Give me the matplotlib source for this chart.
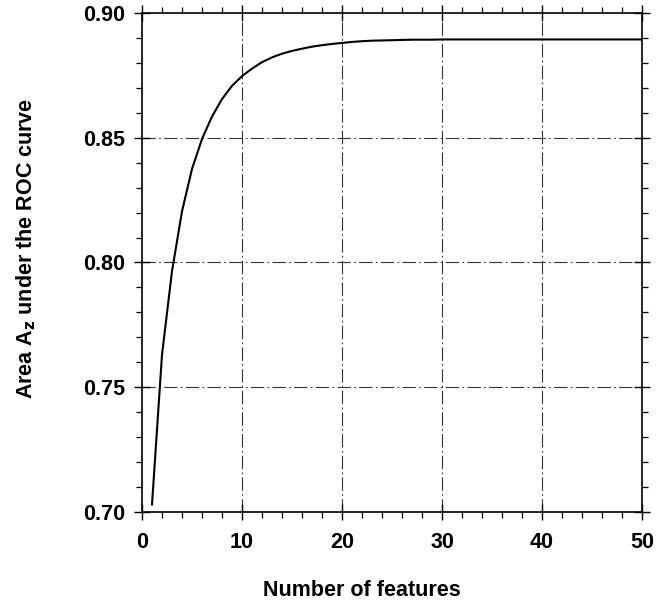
import matplotlib
matplotlib.use("Agg")
import matplotlib.pyplot as plt
from matplotlib.ticker import MultipleLocator, FormatStrFormatter

plt.rcParams['font.family'] = ['Liberation Sans', 'DejaVu Sans']
plt.rcParams['font.weight'] = 'bold'

n_features = list(range(1, 51))
auc = [0.703, 0.763, 0.7965, 0.8205, 0.8375, 0.8495, 0.8585, 0.8655, 0.8708, 0.8747,
       0.8777, 0.8803, 0.8822, 0.8837, 0.8848, 0.8857, 0.8865, 0.8871, 0.8876, 0.8880,
       0.8884, 0.8887, 0.8889, 0.8890, 0.8891, 0.8892, 0.8893, 0.8893, 0.8893, 0.8894,
       0.8894, 0.8894, 0.8894, 0.8894, 0.8894, 0.8894, 0.8894, 0.8894, 0.8894, 0.8894,
       0.8894, 0.8894, 0.8894, 0.8894, 0.8894, 0.8894, 0.8894, 0.8894, 0.8894, 0.8894]

x_ticks = [0, 10, 20, 30, 40, 50]
y_ticks = [0.70, 0.75, 0.80, 0.85, 0.90]

fig = plt.figure(figsize=(6.67, 6.05), dpi=100)
ax = fig.add_axes([142/667, 93/605, 500/667, 499/605])

ax.plot(n_features, auc, color='black', lw=1.5, zorder=3)

ax.set_xlim(0, 50)
ax.set_ylim(0.70, 0.90)
ax.set_xticks(x_ticks)
ax.set_yticks(y_ticks)
ax.xaxis.set_minor_locator(MultipleLocator(2))
ax.yaxis.set_minor_locator(MultipleLocator(0.01))
ax.yaxis.set_major_formatter(FormatStrFormatter('%.2f'))

ax.tick_params(which='major', direction='inout', length=11, width=1.0,
               top=True, right=True, labelsize=15.5)
ax.tick_params(which='minor', direction='out', length=4, width=0.9,
               top=True, right=True)
ax.tick_params(axis='x', which='major', pad=9)
ax.tick_params(axis='y', which='major', pad=6.5)
for lab in ax.get_xticklabels() + ax.get_yticklabels():
    lab.set_fontweight('bold')

for s in ax.spines.values():
    s.set_linewidth(1.2)

dash = (0, (12, 3, 1.5, 3))
for xv in x_ticks[1:-1]:
    ax.axvline(xv, color='#333333', lw=0.8, linestyle=dash, zorder=1)
for yv in y_ticks[1:-1]:
    ax.axhline(yv, color='#333333', lw=0.8, linestyle=dash, zorder=1)

fig.text(362/667, 1 - 590/605, 'Number of features', ha='center', va='center',
         fontsize=15.5, fontweight='bold')
fig.text(26/667, 1 - 248/605, r'Area A$_{\mathbf{z}}$ under the ROC curve',
         ha='center', va='center', rotation=90, fontsize=15.5, fontweight='bold')

fig.savefig('out.png', dpi=100)
